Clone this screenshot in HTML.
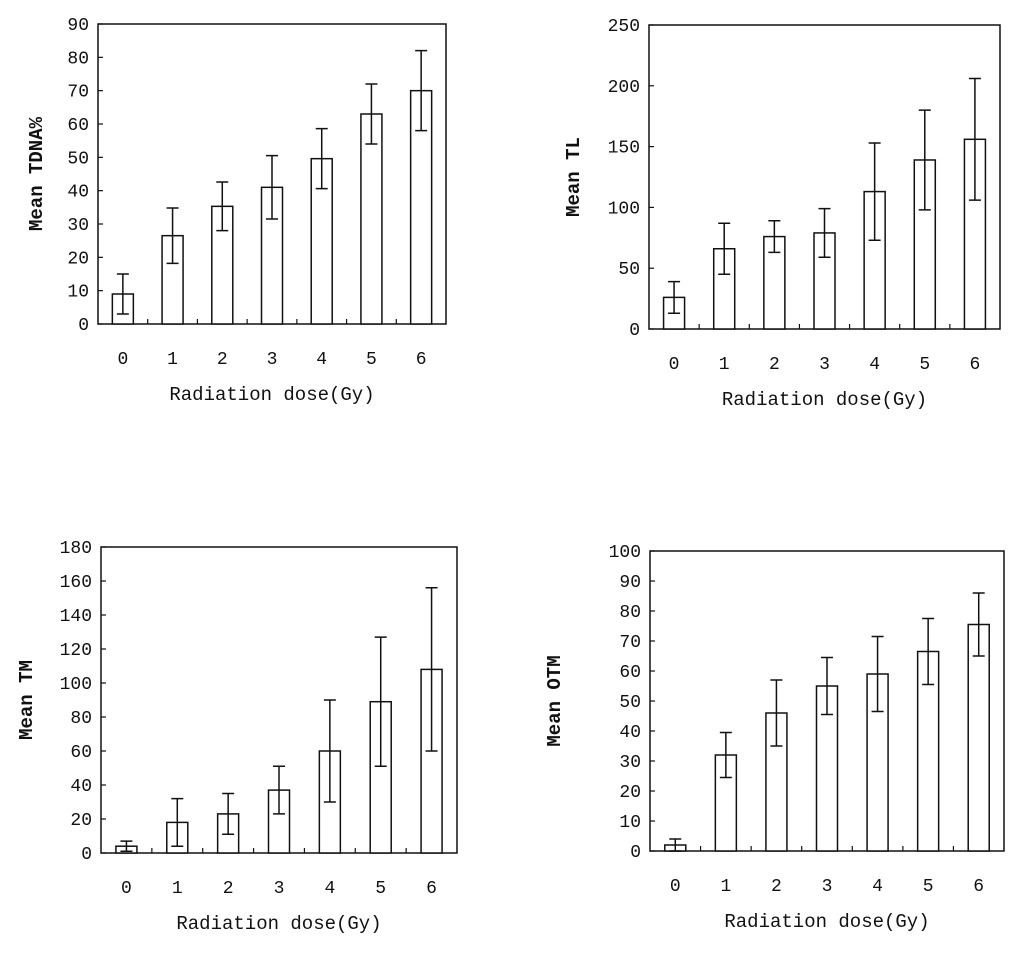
<!DOCTYPE html>
<html><head><meta charset="utf-8"><style>
body{margin:0;background:#fff;}
svg text{font-family:"Liberation Mono","Noto Sans CJK SC",monospace;fill:#111;}
</style></head><body>
<svg id="c" width="1024" height="951"></svg>
<script>
const categories=["0","1","2","3","4","5","6"];
const tdnaMeans=[9,26.5,35.3,41,49.6,63,70];
const tdnaErr=[6,8.3,7.3,9.5,9,9,12];
const tlMeans=[26,66,76,79,113,139,156];
const tlErr=[13,21,13,20,40,41,50];
const tmMeans=[4,18,23,37,60,89,108];
const tmErr=[3,14,12,14,30,38,48];
const otmMeans=[2,32,46,55,59,66.5,75.5];
const otmErr=[2,7.5,11,9.5,12.5,11,10.5];
const tdnaTicks=[0,10,20,30,40,50,60,70,80,90];
const tlTicks=[0,50,100,150,200,250];
const tmTicks=[0,20,40,60,80,100,120,140,160,180];
const otmTicks=[0,10,20,30,40,50,60,70,80,90,100];

const NS="http://www.w3.org/2000/svg";
const svg=document.getElementById('c');
function mk(tag,attrs,parent,txt){const e=document.createElementNS(NS,tag);for(const k in attrs)e.setAttribute(k,attrs[k]);if(txt!==undefined)e.textContent=txt;parent.appendChild(e);return e;}

function panel(name,box,ticks,means,errs,ytitle,ytx){
  const g=mk('g',{},svg);
  
  
  const [x0,y0,x1,y1]=box;
  const ymax=ticks[ticks.length-1];
  const ys=v=>y1-(v/ymax)*(y1-y0);
  const cw=(x1-x0)/categories.length;
  const xs=i=>x0+cw*(i+0.5);
  const frame=mk('rect',{x:x0,y:y0,width:x1-x0,height:y1-y0,fill:'none',stroke:'#111','stroke-width':1.5},g);
  
  
  ticks.forEach(t=>{
    mk('line',{x1:x0,x2:x0+5,y1:ys(t),y2:ys(t),stroke:'#111','stroke-width':1.2},g);
    const tl=mk('text',{x:x0-9,y:ys(t)+6,'text-anchor':'end','font-size':18},g,String(t));
    
    
  });
  for(let i=1;i<categories.length;i++){
    mk('line',{x1:x0+cw*i,x2:x0+cw*i,y1:y1,y2:y1-5,stroke:'#111','stroke-width':1.2},g);
  }
  categories.forEach((c,i)=>{
    const bw=21;
    const b=mk('rect',{x:xs(i)-bw/2,y:ys(means[i]),width:bw,height:y1-ys(means[i]),fill:'#fff',stroke:'#111','stroke-width':1.5},g);
    
    
    const lo=Math.max(0,means[i]-errs[i]),hi=means[i]+errs[i];
    const eb=mk('path',{d:`M${xs(i)},${ys(lo)}V${ys(hi)}M${xs(i)-6},${ys(hi)}h12M${xs(i)-6},${ys(lo)}h12`,stroke:'#111','stroke-width':1.5,fill:'none'},g);
    
    
    const xl=mk('text',{x:xs(i),y:y1+40,'text-anchor':'middle','font-size':18},g,c);
    
    
  });
  const xt=mk('text',{x:(x0+x1)/2,y:y1+76,'text-anchor':'middle','font-size':19},g,'Radiation dose(Gy)');
  
  
  const yc=(y0+y1)/2;
  const yt=mk('text',{x:ytx,y:yc,'text-anchor':'middle','font-size':19,'font-weight':'bold',transform:`rotate(-90 ${ytx} ${yc})`},g,ytitle);
  
  
}
panel('chart-tdna',[98,24,446,324],tdnaTicks,tdnaMeans,tdnaErr,'Mean TDNA%',42);
panel('chart-tl',[649,25,1000,329],tlTicks,tlMeans,tlErr,'Mean TL',579);
panel('chart-tm',[101,547,457,853],tmTicks,tmMeans,tmErr,'Mean TM',32);
panel('chart-otm',[650,551,1004,851],otmTicks,otmMeans,otmErr,'Mean OTM',560);
</script>
</body></html>
